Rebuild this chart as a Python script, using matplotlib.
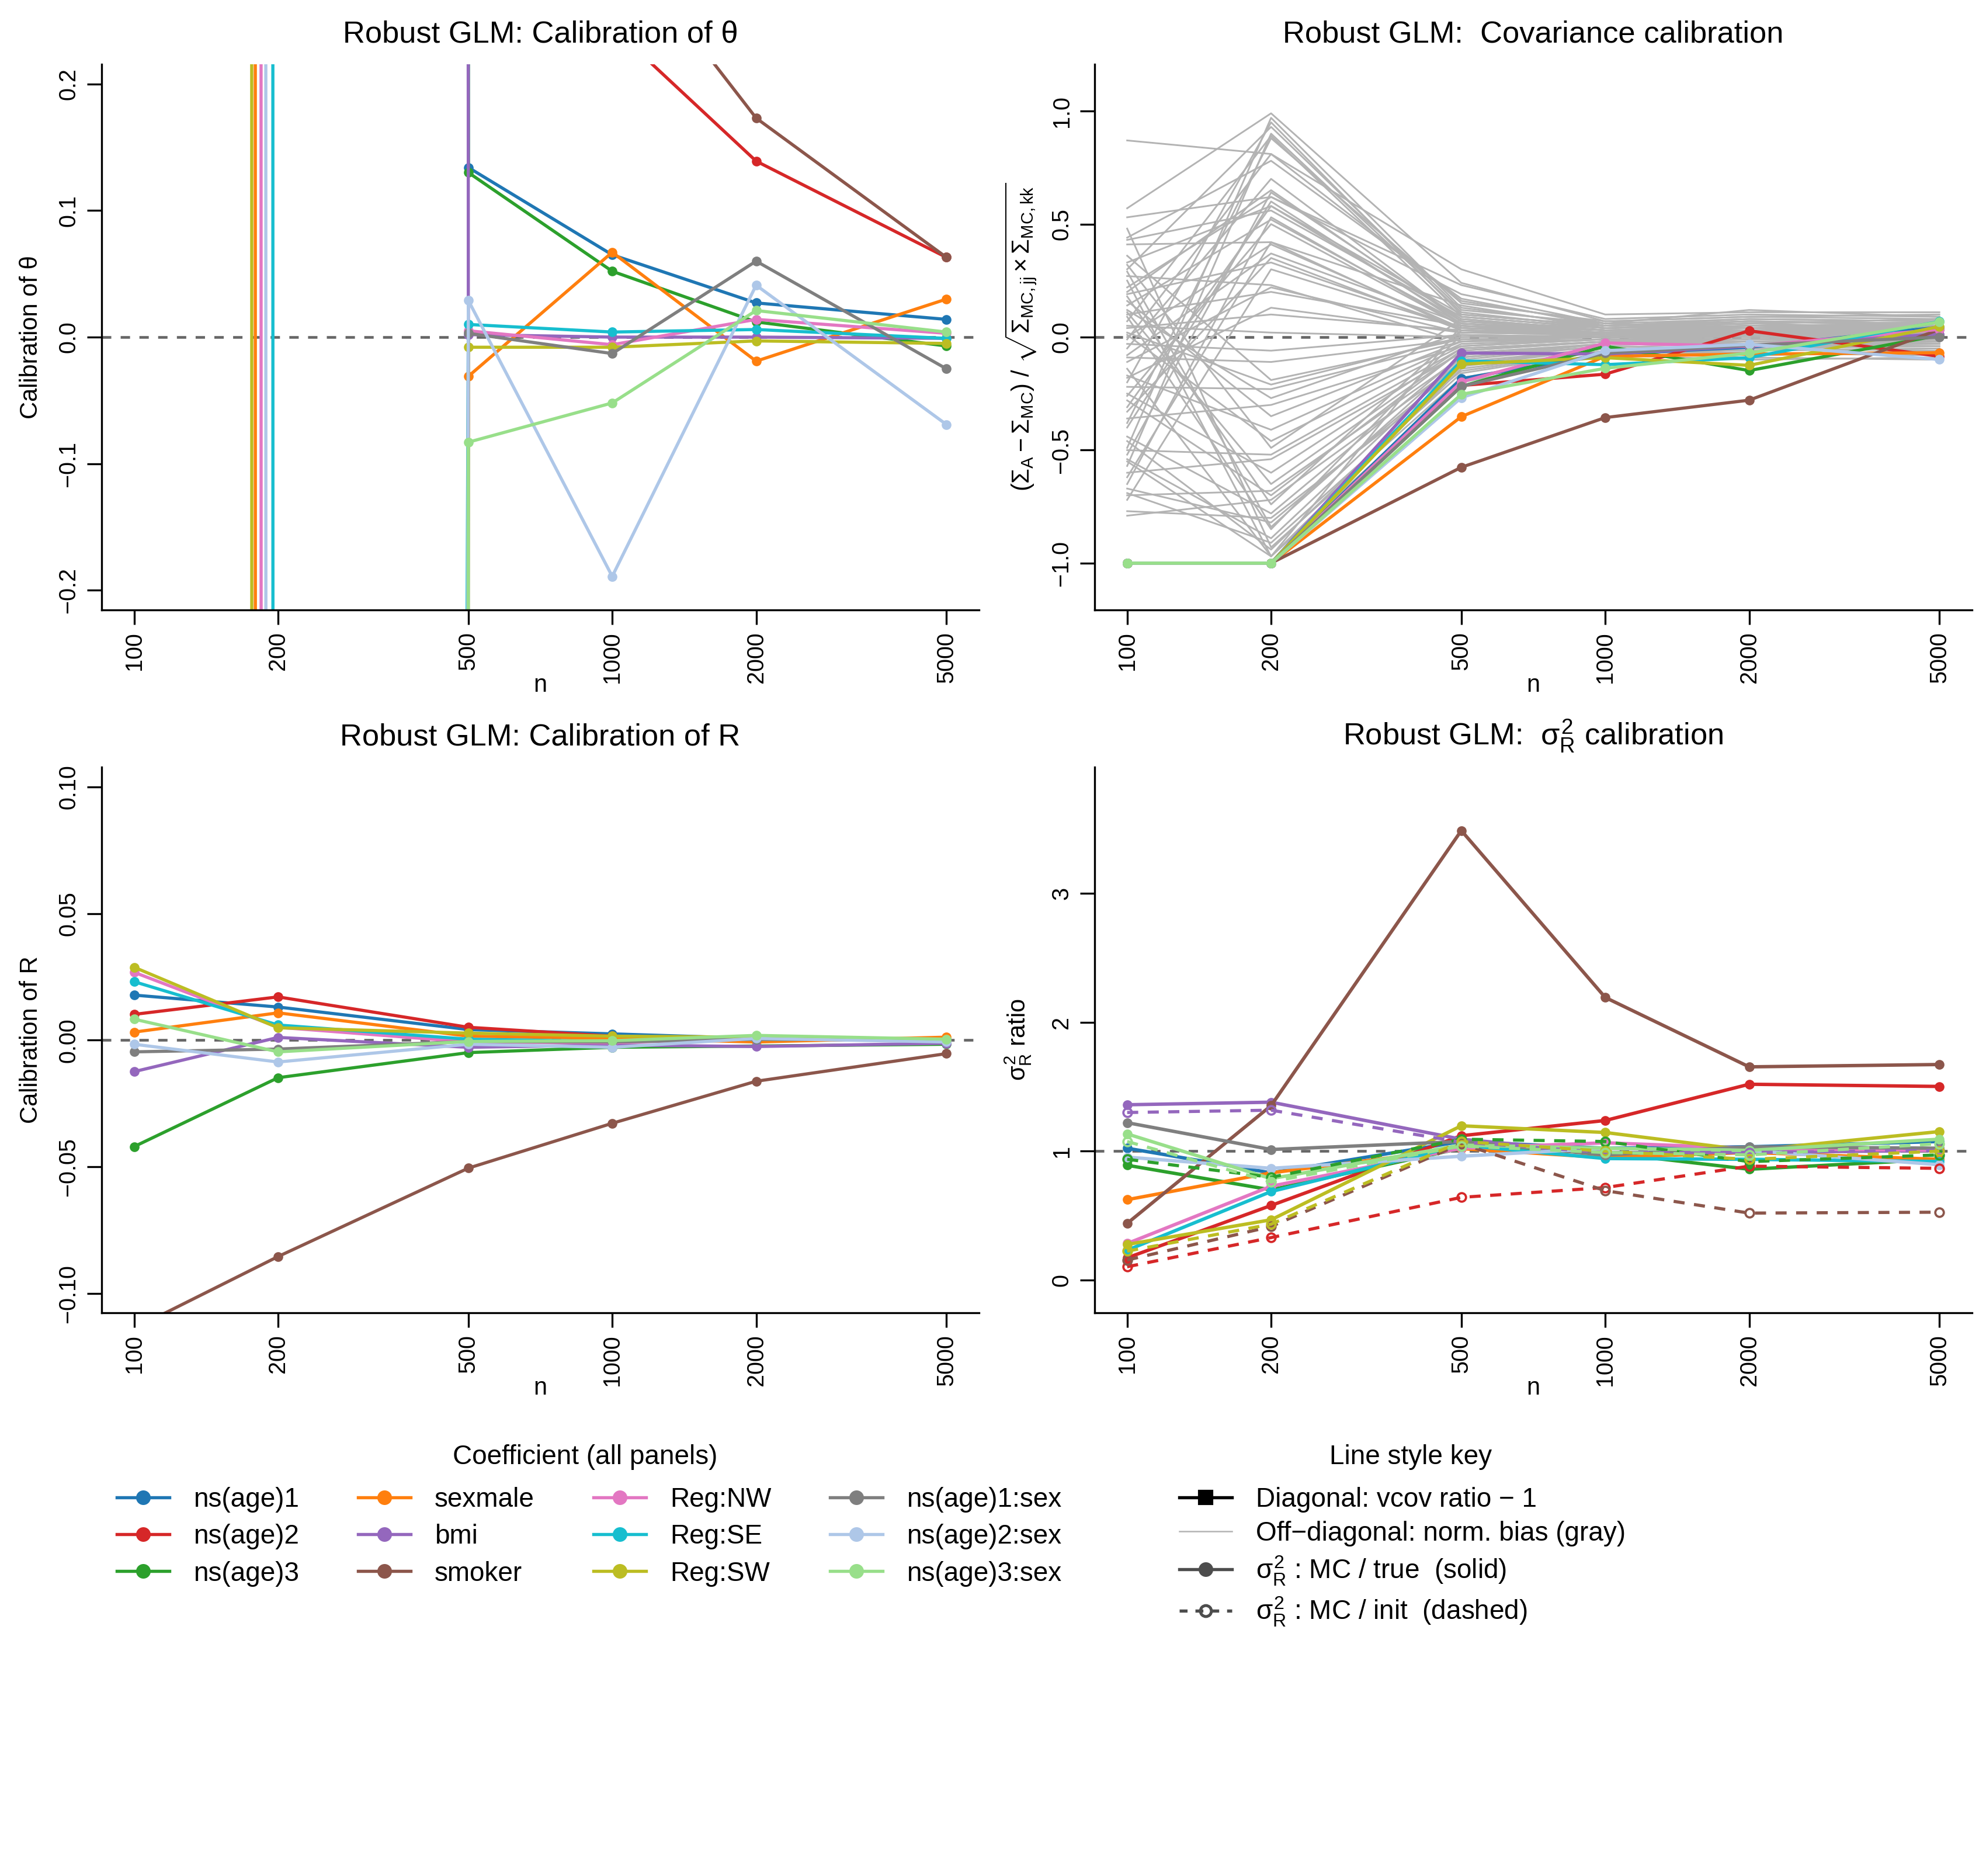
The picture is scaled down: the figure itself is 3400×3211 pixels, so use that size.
"""Robust GLM calibration panels (theta, covariance, R, sigma_R^2)"""

import matplotlib

matplotlib.use("Agg")
import matplotlib.pyplot as plt
from matplotlib.lines import Line2D
from matplotlib.ticker import NullLocator

plt.rcParams["font.family"] = ["Liberation Sans", "DejaVu Sans"]
plt.rcParams["mathtext.fontset"] = "custom"
plt.rcParams["mathtext.rm"] = "Liberation Sans"
plt.rcParams["mathtext.it"] = "Liberation Sans"
plt.rcParams["mathtext.bf"] = "Liberation Sans:bold"

# ---- data -------------------------------------------------------------
n_vals = [100, 200, 500, 1000, 2000, 5000]

coef_names = [
    "ns(age)1", "ns(age)2", "ns(age)3",
    "sexmale", "bmi", "smoker",
    "Reg:NW", "Reg:SE", "Reg:SW",
    "ns(age)1:sex", "ns(age)2:sex", "ns(age)3:sex",
]
coef_colors = [
    "#1f77b4", "#d62728", "#2ca02c",
    "#ff7f0e", "#9467bd", "#8c564b",
    "#e377c2", "#17becf", "#bcbd22",
    "#7f7f7f", "#aec7e8", "#98df8a",
]

# calibration of theta (n=100, 200 blow up far outside the window)
theta_cal = [
    [350.0, 420.0, 0.134, 0.065, 0.027, 0.014],
    [280.0, 390.0, 0.620, 0.245, 0.139, 0.063],
    [310.0, 460.0, 0.130, 0.052, 0.012, -0.007],
    [842.0, -158.0, -0.031, 0.067, -0.019, 0.030],
    [520.0, 610.0, 0.002, 0.000, 0.000, -0.001],
    [300.0, 380.0, 0.780, 0.320, 0.173, 0.063],
    [882.0, -118.0, 0.005, -0.006, 0.014, 0.003],
    [964.0, -36.0, 0.010, 0.004, 0.006, -0.001],
    [817.0, -183.0, -0.008, -0.008, -0.003, -0.005],
    [-240.0, -330.0, 0.003, -0.013, 0.060, -0.025],
    [915.0, -85.0, 0.029, -0.189, 0.041, -0.069],
    [-270.0, -520.0, -0.083, -0.052, 0.021, 0.004],
]

# calibration of R
r_cal = [
    [0.0178, 0.0131, 0.0042, 0.0025, 0.0007, -0.0002],
    [0.0102, 0.0171, 0.0051, 0.0016, 0.0004, -0.0002],
    [-0.0420, -0.0148, -0.0049, -0.0028, -0.0023, -0.0016],
    [0.0032, 0.0108, 0.0016, 0.0007, -0.0007, 0.0012],
    [-0.0124, 0.0011, -0.0028, -0.0019, -0.0025, -0.0012],
    [-0.1138, -0.0854, -0.0505, -0.0328, -0.0162, -0.0053],
    [0.0268, 0.0051, -0.0007, -0.0010, 0.0007, 0.0000],
    [0.0231, 0.0060, 0.0004, -0.0005, 0.0004, 0.0000],
    [0.0288, 0.0049, 0.0028, 0.0016, 0.0012, 0.0002],
    [-0.0046, -0.0035, -0.0005, -0.0007, 0.0004, 0.0000],
    [-0.0016, -0.0086, -0.0016, -0.0028, 0.0007, -0.0007],
    [0.0083, -0.0046, -0.0005, -0.0002, 0.0019, 0.0004],
]

# covariance: diagonal (vcov ratio - 1)
cov_diag = [
    [-1.0, -1.0, -0.184, -0.075, -0.045, 0.044],
    [-1.0, -1.0, -0.214, -0.164, 0.028, -0.085],
    [-1.0, -1.0, -0.218, -0.040, -0.148, 0.008],
    [-1.0, -1.0, -0.352, -0.085, -0.075, -0.069],
    [-1.0, -1.0, -0.070, -0.075, -0.040, 0.014],
    [-1.0, -1.0, -0.576, -0.356, -0.279, 0.034],
    [-1.0, -1.0, -0.198, -0.026, -0.040, 0.034],
    [-1.0, -1.0, -0.105, -0.122, -0.091, 0.069],
    [-1.0, -1.0, -0.119, -0.091, -0.125, 0.047],
    [-1.0, -1.0, -0.218, -0.071, -0.036, 0.000],
    [-1.0, -1.0, -0.268, -0.060, -0.032, -0.099],
    [-1.0, -1.0, -0.253, -0.138, -0.071, 0.067],
]

# covariance: off-diagonal normalised bias (66 pairs)
cov_offdiag = [
    [0.87, 0.81, 0.30, 0.10, 0.11, 0.11],
    [0.57, 0.99, 0.24, 0.07, 0.09, 0.10],
    [0.53, 0.62, 0.19, 0.06, 0.12, 0.09],
    [0.44, 0.78, 0.17, 0.05, 0.08, 0.07],
    [0.41, 0.42, 0.14, 0.04, 0.06, 0.08],
    [0.33, 0.58, 0.10, 0.05, 0.07, 0.06],
    [0.32, -0.49, 0.08, 0.03, 0.05, 0.05],
    [0.30, 0.93, 0.12, 0.06, 0.04, 0.07],
    [0.27, 0.23, -0.02, 0.02, 0.03, 0.04],
    [0.25, -0.97, 0.05, 0.03, 0.02, 0.03],
    [0.20, 0.65, 0.07, 0.04, 0.05, 0.06],
    [0.19, 0.33, 0.04, 0.02, 0.04, 0.03],
    [0.18, -0.74, 0.03, 0.01, 0.02, 0.02],
    [0.14, 0.52, 0.06, 0.03, 0.03, 0.05],
    [0.12, -0.27, 0.02, 0.02, 0.01, 0.02],
    [0.10, 0.20, 0.05, 0.01, 0.02, 0.01],
    [0.09, -0.85, 0.01, 0.00, 0.01, 0.02],
    [0.07, 0.89, 0.09, 0.04, 0.06, 0.04],
    [0.04, 0.10, 0.03, 0.01, 0.00, 0.01],
    [0.02, -0.21, 0.00, 0.01, 0.02, 0.00],
    [0.00, 0.41, 0.04, 0.02, 0.01, 0.03],
    [-0.03, -0.06, 0.01, 0.00, -0.01, 0.01],
    [-0.05, 0.70, 0.07, 0.03, 0.04, 0.05],
    [-0.09, -0.11, -0.01, 0.00, 0.00, -0.01],
    [-0.11, 0.22, 0.02, 0.01, 0.03, 0.02],
    [-0.17, -0.41, -0.03, -0.01, -0.02, -0.01],
    [-0.20, 0.95, 0.10, 0.05, 0.07, 0.06],
    [-0.22, -0.23, -0.02, 0.00, -0.01, 0.00],
    [-0.26, 0.50, 0.05, 0.02, 0.02, 0.03],
    [-0.28, -0.70, -0.06, -0.02, -0.03, -0.02],
    [-0.33, 0.35, 0.03, 0.01, 0.01, 0.02],
    [-0.36, -0.30, -0.04, -0.01, -0.02, -0.01],
    [-0.40, 0.60, 0.06, 0.02, 0.03, 0.04],
    [-0.44, -0.78, -0.08, -0.03, -0.04, -0.03],
    [-0.49, 0.97, 0.13, 0.05, 0.06, 0.08],
    [-0.50, -0.52, -0.05, -0.02, -0.03, -0.02],
    [-0.52, 0.64, 0.08, 0.03, 0.05, 0.04],
    [-0.54, -0.89, -0.10, -0.04, -0.05, -0.04],
    [-0.57, 0.90, 0.11, 0.04, 0.05, 0.06],
    [-0.60, -0.54, -0.07, -0.03, -0.04, -0.03],
    [-0.65, 0.53, 0.05, 0.02, 0.03, 0.02],
    [-0.67, -0.82, -0.12, -0.05, -0.06, -0.05],
    [-0.70, -0.68, -0.09, -0.04, -0.05, -0.06],
    [-0.72, 0.30, 0.04, 0.01, 0.02, 0.01],
    [-0.77, -0.80, -0.15, -0.06, -0.08, -0.07],
    [-0.79, -0.72, -0.11, -0.05, -0.07, -0.08],
    [0.48, -0.93, -0.18, -0.07, -0.09, -0.10],
    [0.36, -0.19, -0.01, 0.00, -0.02, -0.01],
    [0.22, 0.62, 0.23, 0.08, 0.10, 0.09],
    [0.16, -0.35, -0.02, -0.01, -0.01, -0.02],
    [0.05, 0.02, 0.00, 0.00, 0.01, 0.00],
    [-0.01, 0.81, 0.16, 0.06, 0.08, 0.07],
    [-0.14, -0.97, -0.20, -0.08, -0.10, -0.09],
    [-0.31, 0.58, 0.07, 0.03, 0.04, 0.03],
    [-0.46, -0.94, -0.13, -0.05, -0.06, -0.05],
    [-0.62, 0.42, 0.03, 0.02, 0.01, 0.02],
    [-0.69, -0.91, -0.16, -0.06, -0.07, -0.08],
    [0.29, -0.84, -0.09, -0.03, -0.04, -0.04],
    [0.11, -0.65, -0.06, -0.02, -0.03, -0.03],
    [-0.18, 0.13, 0.02, 0.01, 0.00, 0.01],
    [-0.38, 0.88, 0.15, 0.07, 0.09, 0.08],
    [-0.55, -0.97, -0.14, -0.06, -0.08, -0.06],
    [0.43, 0.56, 0.09, 0.04, 0.07, 0.05],
    [-0.25, -0.60, -0.05, -0.02, -0.02, -0.03],
    [0.01, -0.46, -0.04, -0.01, -0.03, -0.02],
    [-0.08, 0.37, 0.06, 0.03, 0.02, 0.04],
]

# sigma_R^2 ratio: MC / true (solid)
sig_true = [
    [1.023, 0.832, 1.075, 1.023, 1.034, 1.075],
    [0.173, 0.579, 1.120, 1.238, 1.519, 1.502],
    [0.891, 0.700, 1.023, 0.989, 0.860, 0.937],
    [0.624, 0.832, 1.020, 0.950, 0.990, 0.937],
    [1.360, 1.380, 1.093, 0.990, 0.990, 1.006],
    [0.440, 1.353, 3.486, 2.192, 1.654, 1.672],
    [0.284, 0.728, 1.023, 1.065, 1.023, 1.006],
    [0.232, 0.687, 1.047, 0.943, 0.937, 0.920],
    [0.277, 0.468, 1.197, 1.145, 1.006, 1.152],
    [1.221, 1.013, 1.075, 0.971, 1.034, 1.023],
    [0.954, 0.867, 0.961, 1.023, 1.006, 0.895],
    [1.134, 0.787, 1.047, 1.023, 1.006, 1.093],
]

# sigma_R^2 ratio: MC / init (dashed), only the visible ones
sig_init_names = ["ns(age)2", "ns(age)3", "bmi", "smoker", "Reg:SW", "ns(age)3:sex"]
sig_init = [
    [0.104, 0.330, 0.642, 0.718, 0.884, 0.867],
    [0.937, 0.798, 1.093, 1.075, 0.919, 0.971],
    [1.300, 1.318, 1.070, 0.990, 0.990, 1.006],
    [0.156, 0.416, 1.058, 0.694, 0.520, 0.527],
    [0.225, 0.434, 1.075, 1.000, 0.937, 1.000],
    [1.075, 0.763, 1.040, 0.990, 0.971, 1.058],
]

# ---- style ------------------------------------------------------------
W, H, DPI = 3400, 3211, 300
LW = 1.3
MS = 3.0
REF_COLOR = "#666666"
OFF_COLOR = "#b3b3b3"
XLIM = (85.5, 5850)


def minus(s: str) -> str:
    return s.replace("-", "\u2212")


def style_axes(ax, yticks, yfmt, ylim):
    ax.set_xscale("log")
    ax.set_xlim(*XLIM)
    ax.set_ylim(*ylim)
    ax.spines["top"].set_visible(False)
    ax.spines["right"].set_visible(False)
    for side in ("left", "bottom"):
        ax.spines[side].set_linewidth(0.8)
    ax.set_xticks(n_vals)
    ax.set_xticklabels([str(v) for v in n_vals], rotation=90, va="top", ha="center")
    ax.xaxis.set_minor_locator(NullLocator())
    ax.set_yticks(yticks)
    ax.set_yticklabels(
        [minus(yfmt.format(v)) for v in yticks], rotation=90, va="center", ha="right"
    )
    ax.tick_params(direction="out", length=6, width=0.8, labelsize=9.5, pad=3)
    ax.set_xlabel("n", fontsize=10, labelpad=-4)


def ref_line(ax, y):
    ax.axhline(y, color=REF_COLOR, lw=1.1, ls=(0, (3.5, 3.5)), zorder=1)


fig = plt.figure(figsize=(W / DPI, H / DPI), dpi=DPI)

ax_left, ax_right, ax_w = 174 / W, 1874 / W, 1502 / W
ax_h = 934 / H
ax_tl = fig.add_axes([ax_left, 1 - 1044 / H, ax_w, ax_h])
ax_tr = fig.add_axes([ax_right, 1 - 1044 / H, ax_w, ax_h])
ax_bl = fig.add_axes([ax_left, 1 - 2247 / H, ax_w, ax_h])
ax_br = fig.add_axes([ax_right, 1 - 2247 / H, ax_w, ax_h])

title_kw = dict(fontsize=12.6, pad=9)

# top-left: calibration of theta
ref_line(ax_tl, 0.0)
for vals, col in zip(theta_cal, coef_colors):
    ax_tl.plot(n_vals, vals, color=col, lw=LW, marker="o", ms=MS, zorder=2)
style_axes(ax_tl, [-0.2, -0.1, 0.0, 0.1, 0.2], "{:.1f}", (-0.2155, 0.2155))
ax_tl.set_title("Robust GLM: Calibration of \u03b8", **title_kw)
ax_tl.set_ylabel("Calibration of \u03b8", fontsize=10, labelpad=6)

# top-right: covariance calibration
ref_line(ax_tr, 0.0)
for vals in cov_offdiag:
    ax_tr.plot(n_vals, vals, color=OFF_COLOR, lw=0.7, zorder=2)
for vals, col in zip(cov_diag, coef_colors):
    ax_tr.plot(n_vals, vals, color=col, lw=LW, marker="o", ms=MS, zorder=3)
style_axes(ax_tr, [-1.0, -0.5, 0.0, 0.5, 1.0], "{:.1f}", (-1.207, 1.207))
ax_tr.set_title("Robust GLM:  Covariance calibration", **title_kw)
ax_tr.set_ylabel(
    r"$(\Sigma_{A} - \Sigma_{MC})\ /\ \sqrt{\Sigma_{MC,jj} \times \Sigma_{MC,kk}}$",
    fontsize=10, labelpad=5,
)

# bottom-left: calibration of R
ref_line(ax_bl, 0.0)
for vals, col in zip(r_cal, coef_colors):
    ax_bl.plot(n_vals, vals, color=col, lw=LW, marker="o", ms=MS, zorder=2)
style_axes(ax_bl, [-0.10, -0.05, 0.0, 0.05, 0.10], "{:.2f}", (-0.1076, 0.1078))
ax_bl.set_title("Robust GLM: Calibration of R", **title_kw)
ax_bl.set_ylabel("Calibration of R", fontsize=10, labelpad=6)

# bottom-right: sigma_R^2 calibration
ref_line(ax_br, 1.0)
for vals, col in zip(sig_true, coef_colors):
    ax_br.plot(n_vals, vals, color=col, lw=1.4, marker="o", ms=MS, zorder=2)
for name, vals in zip(sig_init_names, sig_init):
    col = coef_colors[coef_names.index(name)]
    ax_br.plot(
        n_vals, vals, color=col, lw=1.3, ls=(0, (3.5, 3.0)), marker="o", ms=3.5,
        mfc="none", mew=0.9, zorder=3,
    )
style_axes(ax_br, [0, 1, 2, 3], "{:d}", (-0.253, 3.978))
ax_br.set_title(r"Robust GLM:  $\sigma^2_R$ calibration", **title_kw)
ax_br.set_ylabel(r"$\sigma^2_R$ ratio", fontsize=10, labelpad=7)

# ---- legends ----------------------------------------------------------
legend_title_y = 1 - 2494 / H
legend_top_y = 1 - 2545 / H

fig.text(1002 / W, legend_title_y, "Coefficient (all panels)", fontsize=11,
         ha="center", va="center")
coef_handles = [
    Line2D([], [], color=c, lw=1.3, marker="o", ms=5) for c in coef_colors
]
fig.legend(
    coef_handles, coef_names, loc="upper left",
    bbox_to_anchor=(200 / W, legend_top_y), ncol=4, frameon=False,
    fontsize=11, handlelength=1.96, handletextpad=0.9, columnspacing=2.2,
    labelspacing=0.42, borderpad=0, borderaxespad=0,
)

fig.text(2415 / W, legend_title_y, "Line style key", fontsize=11,
         ha="center", va="center")
key_handles = [
    Line2D([], [], color="black", lw=1.3, marker="s", ms=5.2),
    Line2D([], [], color=OFF_COLOR, lw=0.6),
    Line2D([], [], color="#4d4d4d", lw=1.3, marker="o", ms=5),
    Line2D([], [], color="#4d4d4d", lw=1.3, ls=(0, (2.5, 2.5)), marker="o",
           ms=4.5, mfc="none", mew=1.2),
]
key_labels = [
    "Diagonal: vcov ratio \u2212 1",
    "Off\u2212diagonal: norm. bias (gray)",
    r"$\sigma^2_R$ : MC / true  (solid)",
    r"$\sigma^2_R$ : MC / init  (dashed)",
]
fig.legend(
    key_handles, key_labels, loc="upper left",
    bbox_to_anchor=(2019 / W, legend_top_y), frameon=False,
    fontsize=11, handlelength=1.96, handletextpad=0.9, labelspacing=0.3,
    borderpad=0, borderaxespad=0,
)

fig.savefig("out.png", dpi=DPI)
plt.close(fig)
